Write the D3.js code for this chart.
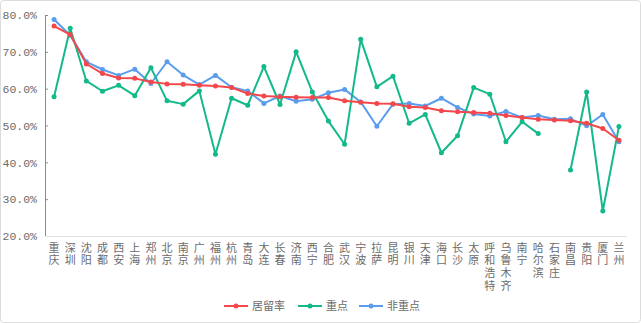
<!DOCTYPE html>
<html>
<head>
<meta charset="utf-8">
<script src="https://cdn.jsdelivr.net/npm/d3@7"></script>
<style>
  body { margin: 0; background: #fff; }
  text { font-family: "Noto Sans CJK SC", "DejaVu Sans", sans-serif; }
</style>
</head>
<body>
<script>
var cities = ["重庆","深圳","沈阳","成都","西安","上海","郑州","北京","南京","广州","福州","杭州",
  "青岛","大连","长春","济南","西宁","合肥","武汉","宁波","拉萨","昆明","银川","天津",
  "海口","长沙","太原","呼和浩特","乌鲁木齐","南宁","哈尔滨","石家庄","南昌","贵阳","厦门","兰州"];

var juliu = [77.0,74.7,66.7,64.1,62.9,62.8,61.8,61.3,61.2,60.9,60.7,60.3,
  58.7,58.0,57.8,57.7,57.6,57.6,56.7,56.3,56.0,55.9,55.1,54.9,
  54.0,53.7,53.5,53.3,52.7,52.2,51.7,51.5,51.3,50.6,49.2,46.0];

var zhongdian = [57.8,76.4,62.1,59.3,60.9,58.1,65.7,56.7,55.8,59.4,42.2,57.4,
  55.5,66.0,55.7,70.0,59.1,51.2,44.9,73.4,60.5,63.4,50.6,53.0,
  42.6,47.2,60.3,58.5,45.6,51.0,47.8,null,37.9,59.1,26.8,49.7];

var feizhongdian = [78.8,74.5,67.3,65.2,63.6,65.3,61.4,67.3,63.7,61.1,63.6,60.4,
  59.4,56.0,58.0,56.6,57.1,58.9,59.8,56.4,49.8,55.8,56.0,55.3,
  57.4,54.9,53.1,52.6,53.8,52.2,52.7,51.7,51.8,49.9,53.0,45.6];

var yTicks = [20,30,40,50,60,70,80];

var series = [
  {name: "居留率", values: juliu, color: "#f4474b"},
  {name: "重点", values: zhongdian, color: "#13b98b"},
  {name: "非重点", values: feizhongdian, color: "#5b9ded"}
];

var width = 641, height = 323;
var svg = d3.select("body").append("svg")
    .attr("width", width)
    .attr("height", height);

svg.append("rect")
    .attr("x", 0.5).attr("y", 0.5)
    .attr("width", width - 1).attr("height", height - 1)
    .attr("rx", 3)
    .attr("fill", "#fff")
    .attr("stroke", "#dcdcdc");

var x = d3.scaleBand().domain(cities).range([46, 627]);
var y = d3.scaleLinear().domain([20, 80]).range([236, 15]);

// y axis
var yAxis = svg.append("g").attr("transform", "translate(45,0)")
    .call(d3.axisLeft(y).tickValues(yTicks).tickSize(0).tickPadding(8)
      .tickFormat(function(d) { return d.toFixed(1) + "%"; }));
yAxis.select(".domain").attr("stroke", "#8c8c8c");
yAxis.selectAll("text")
    .attr("fill", "#6b6b6b")
    .style("font-family", "'Liberation Mono', 'DejaVu Sans Mono', monospace")
    .style("font-size", "11.5px");
yAxis.selectAll(".tick").append("line")
    .attr("x1", 0).attr("x2", 3).attr("stroke", "#8c8c8c");

// x axis line
svg.append("line")
    .attr("x1", 45).attr("x2", 627)
    .attr("y1", 236.5).attr("y2", 236.5)
    .attr("stroke", "#e3e3e3");

// vertical category labels
svg.append("g").selectAll("text")
    .data(cities).enter().append("text")
    .attr("fill", "#6b6b6b")
    .style("font-size", "11px")
    .style("writing-mode", "vertical-rl")
    .style("letter-spacing", "1.7px")
    .attr("x", function(d) { return x(d) + x.bandwidth() / 2; })
    .attr("y", 242)
    .text(function(d) { return d; });

// lines
var line = d3.line()
    .defined(function(d) { return d != null; })
    .x(function(d, i) { return x(cities[i]) + x.bandwidth() / 2; })
    .y(function(d) { return y(d); });

var order = [series[2], series[1], series[0]];
order.forEach(function(s) {
  var g = svg.append("g");
  g.append("path")
      .datum(s.values)
      .attr("fill", "none")
      .attr("stroke", s.color)
      .attr("stroke-width", 2)
      .attr("stroke-linejoin", "round")
      .attr("d", line);
  g.selectAll("circle")
      .data(s.values.map(function(v, i) { return {v: v, i: i}; }).filter(function(d) { return d.v != null; }))
      .enter().append("circle")
      .attr("cx", function(d) { return x(cities[d.i]) + x.bandwidth() / 2; })
      .attr("cy", function(d) { return y(d.v); })
      .attr("r", 2.5)
      .attr("fill", s.color);
});

// legend
var legendX = [224, 298, 359];
var legend = svg.append("g").selectAll("g")
    .data(series).enter().append("g")
    .attr("transform", function(d, i) { return "translate(" + legendX[i] + ",306)"; });
legend.append("line")
    .attr("x1", 0).attr("x2", 24)
    .attr("stroke", function(d) { return d.color; })
    .attr("stroke-width", 2);
legend.append("circle")
    .attr("cx", 12).attr("r", 2.5)
    .attr("fill", function(d) { return d.color; });
legend.append("text")
    .attr("x", 28).attr("y", 4)
    .attr("fill", "#6b6b6b")
    .style("font-size", "11px")
    .text(function(d) { return d.name; });
</script>
</body>
</html>
